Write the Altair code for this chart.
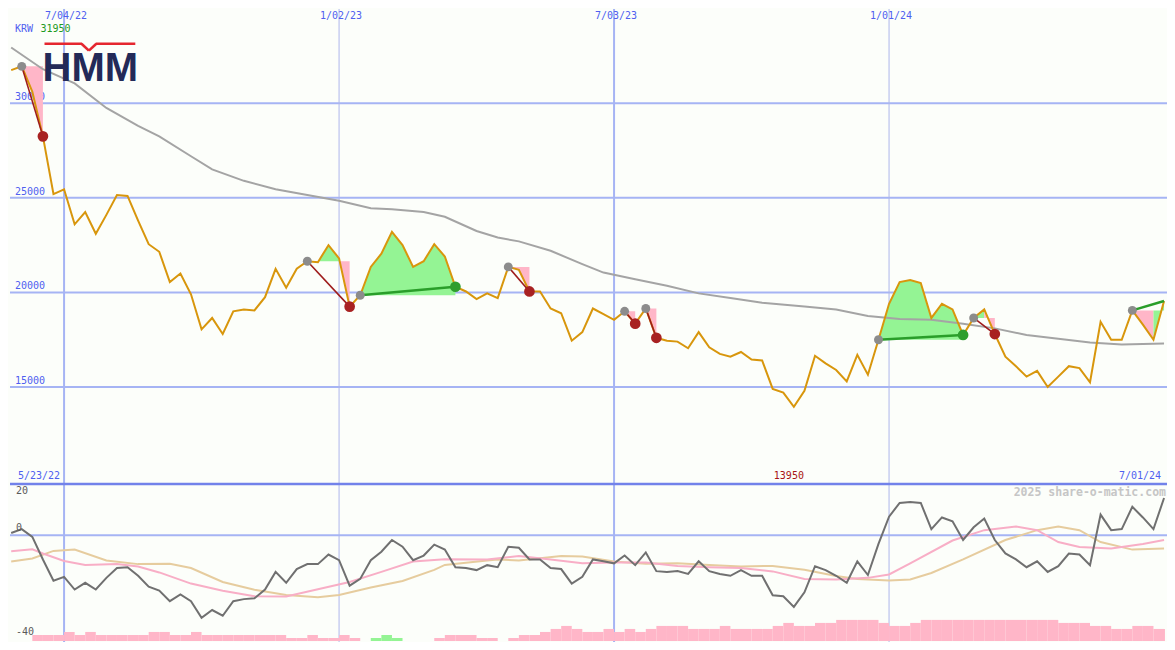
import altair as alt
import pandas as pd

W, H = 1159, 634

# ---------------- data (weekly, week 0 = 5/23/22) ----------------
weeks = list(range(1, 111))
price = [31750, 31950, 30600, 28250, 25200, 25450, 23600, 24250, 23100, 24100,
         25150, 25100, 23800, 22550, 22150, 20550, 21000, 19900, 18050, 18650,
         17800, 19000, 19100, 19050, 19750, 21250, 20250, 21250, 21650, 21600,
         22500, 21800, 19250, 19850, 21350, 22050, 23200, 22500, 21350, 21650,
         22550, 21900, 20300, 20050, 19650, 19950, 19700, 21350, 21200, 20050,
         20050, 19150, 18900, 17450, 17900, 19150, 18850, 18550, 19000, 18350,
         19150, 17600, 17450, 17400, 17050, 17900, 17100, 16750, 16600, 16850,
         16450, 16400, 14900, 14700, 13950, 14800, 16650, 16250, 15900, 15300,
         16700, 15650, 17500, 19400, 20550, 20650, 20500, 18650, 19400, 19100,
         17750, 18650, 19100, 17800, 16600, 16100, 15550, 15850, 15000, 15550,
         16100, 16000, 15250, 18450, 17500, 17500, 19050, 18300, 17500, 19550]

ma_weeks = [1, 4, 7, 10, 13, 15, 18, 20, 23, 26, 29, 32, 35, 37, 40, 42, 44, 45, 47, 49,
            52, 55, 57, 60, 63, 66, 69, 72, 76, 79, 82, 85, 88, 91, 94, 97, 100, 103, 106, 110]
ma_vals = [32950, 31800, 31050, 29750, 28800, 28250, 27200, 26500, 25900, 25450,
           25150, 24850, 24450, 24400, 24250, 24000, 23500, 23250, 22900, 22700,
           22200, 21500, 21050, 20700, 20350, 19950, 19700, 19450, 19250, 19100,
           18750, 18600, 18550, 18350, 18100, 17750, 17550, 17350, 17250, 17300]

osc = [0.9, 2.4, -0.6, -9.3, -17.5, -16.0, -20.9, -18.3, -20.9, -16.4,
       -12.6, -12.3, -15.6, -19.8, -21.3, -25.4, -22.8, -25.4, -31.8, -28.8,
       -31.0, -25.4, -24.6, -24.3, -20.9, -14.1, -18.3, -13.0, -11.1, -11.1,
       -7.4, -9.6, -19.4, -16.8, -9.6, -6.3, -1.8, -4.4, -9.6, -7.8,
       -3.6, -5.5, -12.3, -12.6, -13.4, -11.5, -12.3, -4.4, -4.8, -9.3,
       -9.3, -12.6, -13.0, -18.6, -16.0, -9.3, -10.0, -10.8, -7.8, -11.5,
       -6.6, -13.8, -14.1, -13.8, -14.9, -10.0, -13.8, -14.9, -15.6, -13.4,
       -15.6, -15.6, -23.1, -23.5, -27.6, -22.0, -11.9, -13.4, -15.6, -18.3,
       -10.0, -15.3, -3.3, 7.2, 12.5, 12.9, 12.5, 2.4, 6.9, 5.4,
       -1.8, 3.1, 6.5, -1.8, -7.0, -9.3, -12.3, -10.0, -14.1, -11.9,
       -7.0, -7.4, -11.5, 8.0, 2.0, 2.4, 11.0, 6.9, 2.4, 14.4]

pink_weeks = [1, 3, 4, 6, 8, 11, 13, 15, 18, 21, 24, 27, 30, 33, 36, 39, 42, 46, 49, 52,
              55, 58, 61, 64, 67, 70, 73, 76, 79, 82, 84, 86, 90, 93, 96, 98, 100, 102, 105, 108, 110]
pink_vals = [-6.1, -5.4, -7.0, -9.9, -11.4, -11.1, -12.0, -14.3, -18.6, -21.4,
             -23.5, -23.6, -20.8, -18.0, -14.1, -10.1, -9.2, -9.3, -8.0, -9.3,
             -10.8, -10.5, -10.5, -11.8, -12.3, -12.6, -13.9, -16.8, -17.0, -16.4,
             -15.1, -10.8, -2.0, 2.0, 3.4, 2.0, -2.6, -4.5, -5.1, -3.3, -1.8]

tan_weeks = [1, 3, 5, 7, 10, 13, 16, 18, 21, 24, 27, 30, 32, 35, 38, 41, 42, 46, 47, 49,
             53, 55, 58, 61, 64, 67, 70, 73, 76, 79, 81, 84, 86, 88, 91, 95, 98, 100, 102, 104, 107, 110]
tan_vals = [-10.1, -8.9, -6.0, -5.5, -9.7, -11.1, -11.0, -12.6, -18.0, -21.0,
            -23.0, -23.9, -23.0, -20.1, -17.6, -13.3, -11.4, -9.7, -9.3, -9.7,
            -8.0, -8.2, -10.1, -11.0, -10.8, -11.4, -12.0, -11.8, -13.3, -15.7,
            -16.8, -17.4, -17.0, -14.5, -9.3, -1.8, 2.0, 3.4, 2.0, -2.6, -5.5, -5.1]

bar_level = [0, 0, 2, 2, 2, 3, 2, 3, 2, 2,
             2, 2, 2, 3, 3, 2, 2, 3, 2, 2,
             2, 2, 2, 2, 2, 2, 1, 1, 2, 1,
             1, 2, 1, 0, 1, 2, 1, 0, 0, 0,
             1, 2, 2, 2, 1, 1, 0, 1, 2, 2,
             3, 4, 5, 4, 3, 3, 4, 3, 4, 3,
             4, 5, 5, 5, 4, 4, 4, 5, 4, 4,
             4, 4, 5, 6, 5, 5, 6, 6, 7, 7,
             7, 7, 6, 5, 5, 6, 7, 7, 7, 7,
             7, 7, 7, 7, 7, 7, 7, 7, 7, 6,
             6, 6, 5, 5, 4, 4, 5, 5, 4, 4]
bar_green_weeks = [35, 36, 37]

trade_entry = [2, 29, 34, 48, 59, 61, 83, 92, 107]
trade_exit = [4, 33, 43, 50, 60, 62, 91, 94, 110]
trade_open = [False, False, False, False, False, False, False, False, True]

price_ticks = [30000, 25000, 20000, 15000]
date_weeks = [6, 32, 58, 84]
date_labels = ["7/04/22", "1/02/23", "7/03/23", "1/01/24"]
date_major = [True, False, True, False]
osc_ticks_top = [20]
osc_ticks_low = [0, -40]
start_label = "5/23/22"
end_label = "7/01/24"
currency = "KRW"
logo_text = "HMM"
credit = "2025 share-o-matic.com"

# ---------------- styles ----------------
FONT = "DejaVu Sans Mono"
BG = "#FCFEFA"
BLUE_TXT = "#4F5FF0"
GRID = "#A6B4F4"
PINK_FILL = "#FFB6C8"
GREEN_FILL = "#94F494"
WIN = "#2A9E2A"
LOSS = "#9E1C1C"

xs = alt.Scale(domain=[0.888, 110.09], nice=False, zero=False)
ps = alt.Scale(domain=[1573, 34983], nice=False, zero=False)
os_ = alt.Scale(domain=[-40.75, 203.0], nice=False, zero=False)
bs = alt.Scale(domain=[0, 209.7], nice=False, zero=False)

def X(f="week"):
    return alt.X(f"{f}:Q", scale=xs, axis=None)

def YP(f="p"):
    return alt.Y(f"{f}:Q", scale=ps, axis=None, stack=None)

def YO(f="v"):
    return alt.Y(f"{f}:Q", scale=os_, axis=None, stack=None)

df_price = pd.DataFrame({"week": weeks, "p": price})
df_ma = pd.DataFrame({"week": ma_weeks, "p": ma_vals})
df_osc = pd.DataFrame({"week": weeks, "v": osc})
df_pink = pd.DataFrame({"week": pink_weeks, "v": pink_vals})
df_tan = pd.DataFrame({"week": tan_weeks, "v": tan_vals})
df_bar = pd.DataFrame({
    "week": weeks,
    "week2": [w + 1 for w in weeks],
    "lv": bar_level,
    "base": [0] * len(weeks),
    "c": [GREEN_FILL if w in bar_green_weeks else PINK_FILL for w in weeks],
})
df_bar = df_bar[df_bar.lv > 0]

# fills between entry level and price, per trade
fill_rows = []
line_rows = []
dot_rows = []
for t, (a, b, op) in enumerate(zip(trade_entry, trade_exit, trade_open)):
    lvl = price[a - 1]
    run = 0
    prev_c = None
    for k in range(a, b):
        p1, p2 = price[k - 1], price[k]
        c = GREEN_FILL if p2 >= lvl else PINK_FILL
        if prev_c is not None and c != prev_c:
            run += 1
        prev_c = c
        sid = f"{t}-{run}"
        fill_rows.append(dict(seg=sid, week=k, p=p1, lvl=lvl, c=c))
        fill_rows.append(dict(seg=sid, week=k + 1, p=p2, lvl=lvl, c=c))
    win = price[b - 1] >= lvl
    col = WIN if win else LOSS
    sw = 2.5 if win else 1.6
    line_rows.append(dict(tr=t, week=a, p=lvl, c=col, sw=sw))
    line_rows.append(dict(tr=t, week=b, p=price[b - 1], c=col, sw=sw))
    dot_rows.append(dict(week=a, p=lvl, c="#8C8C8C", s=80))
    if not op:
        dot_rows.append(dict(week=b, p=price[b - 1], c=("#2E9E2E" if win else "#A82222"), s=115))

df_fill = pd.DataFrame(fill_rows).drop_duplicates(subset=["seg", "week"])
df_tl = pd.DataFrame(line_rows)
df_dot = pd.DataFrame(dot_rows)

layers = []

# grid lines
df_pt = pd.DataFrame({"p": price_ticks, "lab": [str(v) for v in price_ticks]})
layers.append(alt.Chart(df_pt).mark_rule(color=GRID, strokeWidth=2).encode(
    y=YP(), x=alt.value(0), x2=alt.value(W)))
df_dt = pd.DataFrame({"week": date_weeks, "lab": date_labels,
                      "c": ["#A6B4F4" if m else "#AEB6EC" for m in date_major],
                      "sw": [2 if m else 1 for m in date_major]})
layers.append(alt.Chart(df_dt).mark_rule().encode(
    x=X(), y=alt.value(0), y2=alt.value(H),
    color=alt.Color("c:N", scale=None), strokeWidth=alt.StrokeWidth("sw:Q", scale=None)))
layers.append(alt.Chart(pd.DataFrame({"v": [0]})).mark_rule(color=GRID, strokeWidth=2).encode(
    y=YO(), x=alt.value(0), x2=alt.value(W)))
layers.append(alt.Chart(pd.DataFrame({"v": [0]})).mark_rule(color="#7282EA", strokeWidth=2.5).encode(
    y=alt.value(475), x=alt.value(0), x2=alt.value(W)))

# price tick labels
layers.append(alt.Chart(df_pt).mark_text(font=FONT, fontSize=10, color=BLUE_TXT, align="left",
                                         baseline="bottom", dy=-1).encode(
    y=YP(), x=alt.value(5), text="lab:N"))

# trade fills
layers.append(alt.Chart(df_fill).mark_area(clip=True, opacity=1, interpolate="linear").encode(
    x=X(), y=YP(), y2="lvl:Q", color=alt.Color("c:N", scale=None), detail="seg:N"))

# moving average
layers.append(alt.Chart(df_ma).mark_line(color="#A4A4A4", strokeWidth=2, clip=True).encode(
    x=X(), y=YP()))

# price line
layers.append(alt.Chart(df_price).mark_line(color="#D8960C", strokeWidth=2, clip=True).encode(
    x=X(), y=YP()))

# trade lines
layers.append(alt.Chart(df_tl).mark_line(clip=True).encode(
    x=X(), y=YP(), detail="tr:N", color=alt.Color("c:N", scale=None),
    strokeWidth=alt.StrokeWidth("sw:Q", scale=None)))

# dots
layers.append(alt.Chart(df_dot).mark_circle(opacity=1).encode(
    x=X(), y=YP(), color=alt.Color("c:N", scale=None), size=alt.Size("s:Q", scale=None)))

# bottom panel
layers.append(alt.Chart(df_bar).mark_rect(clip=True).encode(
    x=X(), x2="week2:Q", y=alt.Y("lv:Q", scale=bs, axis=None), y2="base:Q",
    color=alt.Color("c:N", scale=None)))
layers.append(alt.Chart(df_tan).mark_line(color="#E6CC9E", strokeWidth=2, clip=True).encode(
    x=X(), y=YO()))
layers.append(alt.Chart(df_pink).mark_line(color="#F8AEC6", strokeWidth=2, clip=True).encode(
    x=X(), y=YO()))
layers.append(alt.Chart(df_osc).mark_line(color="#707070", strokeWidth=2, clip=True).encode(
    x=X(), y=YO()))

# bottom tick labels
layers.append(alt.Chart(pd.DataFrame({"v": osc_ticks_top, "lab": [str(v) for v in osc_ticks_top]}))
              .mark_text(font=FONT, fontSize=10, color="#5A5A5A", align="left", baseline="top", dy=3)
              .encode(y=YO(), x=alt.value(6), text="lab:N"))
layers.append(alt.Chart(pd.DataFrame({"v": osc_ticks_low, "lab": [str(v) for v in osc_ticks_low]}))
              .mark_text(font=FONT, fontSize=10, color="#5A5A5A", align="left", baseline="bottom", dy=-2)
              .encode(y=YO(), x=alt.value(6), text="lab:N"))

# date labels on top
layers.append(alt.Chart(df_dt).mark_text(font=FONT, fontSize=10, color=BLUE_TXT, align="center",
                                         baseline="middle", dx=2).encode(
    x=X(), y=alt.value(7), text="lab:N"))

# header texts
layers.append(alt.Chart(pd.DataFrame({"t": [currency]})).mark_text(
    font=FONT, fontSize=10, color=BLUE_TXT, align="left", baseline="middle").encode(
    x=alt.value(5), y=alt.value(19.5), text="t:N"))
df_hi = pd.DataFrame({"t": [str(max(price))]})
layers.append(alt.Chart(df_hi).mark_text(
    font=FONT, fontSize=10, color="#1E9A1E", align="left", baseline="middle").encode(
    x=alt.value(30.5), y=alt.value(19.5), text="t:N"))

# bottom-of-main labels
layers.append(alt.Chart(pd.DataFrame({"t": [start_label]})).mark_text(
    font=FONT, fontSize=10, color=BLUE_TXT, align="left", baseline="middle").encode(
    x=alt.value(8), y=alt.value(467), text="t:N"))
lo_i = price.index(min(price))
df_lo = pd.DataFrame({"week": [weeks[lo_i]], "t": [str(min(price))]})
layers.append(alt.Chart(df_lo).mark_text(
    font=FONT, fontSize=10, color="#A81414", align="center", baseline="middle", dx=-5).encode(
    x=X(), y=alt.value(467), text="t:N"))
layers.append(alt.Chart(pd.DataFrame({"week": [weeks[-1]], "t": [end_label]})).mark_text(
    font=FONT, fontSize=10, color=BLUE_TXT, align="right", baseline="middle", dx=-3).encode(
    x=X(), y=alt.value(467), text="t:N"))
layers.append(alt.Chart(pd.DataFrame({"t": [credit]})).mark_text(
    font=FONT, fontSize=11.5, fontWeight="bold", color="#C6C6C6", align="right", baseline="middle").encode(
    x=alt.value(1156), y=alt.value(484), text="t:N"))

# logo
layers.append(alt.Chart(pd.DataFrame({"t": [logo_text]})).mark_text(
    font="Liberation Sans", fontSize=40, fontWeight="bold", color="#232A58",
    align="left", baseline="alphabetic").encode(
    x=alt.value(32.5), y=alt.value(71.5), text="t:N"))
logo_red = "#E5262F"
layers.append(alt.Chart(pd.DataFrame({"t": [0]})).mark_rule(color=logo_red, strokeWidth=2.6).encode(
    x=alt.value(34.5), x2=alt.value(72), y=alt.value(34.8), y2=alt.value(34.8)))
layers.append(alt.Chart(pd.DataFrame({"t": [0]})).mark_rule(color=logo_red, strokeWidth=2.6).encode(
    x=alt.value(85.8), x2=alt.value(125.3), y=alt.value(34.8), y2=alt.value(34.8)))
layers.append(alt.Chart(pd.DataFrame({"t": [0]})).mark_rule(color=logo_red, strokeWidth=2.6).encode(
    x=alt.value(71.5), x2=alt.value(78.9), y=alt.value(34.8), y2=alt.value(41.6)))
layers.append(alt.Chart(pd.DataFrame({"t": [0]})).mark_rule(color=logo_red, strokeWidth=2.6).encode(
    x=alt.value(78.9), x2=alt.value(86.3), y=alt.value(41.6), y2=alt.value(34.8)))

chart = alt.layer(*layers).resolve_scale(y="independent").properties(
    width=W, height=H, padding=0,
    autosize=alt.AutoSizeParams(type="fit", contains="padding"),
    background=BG,
).configure_view(strokeWidth=0)

chart.save("out.html", embed_options={"renderer": "svg", "actions": False})
